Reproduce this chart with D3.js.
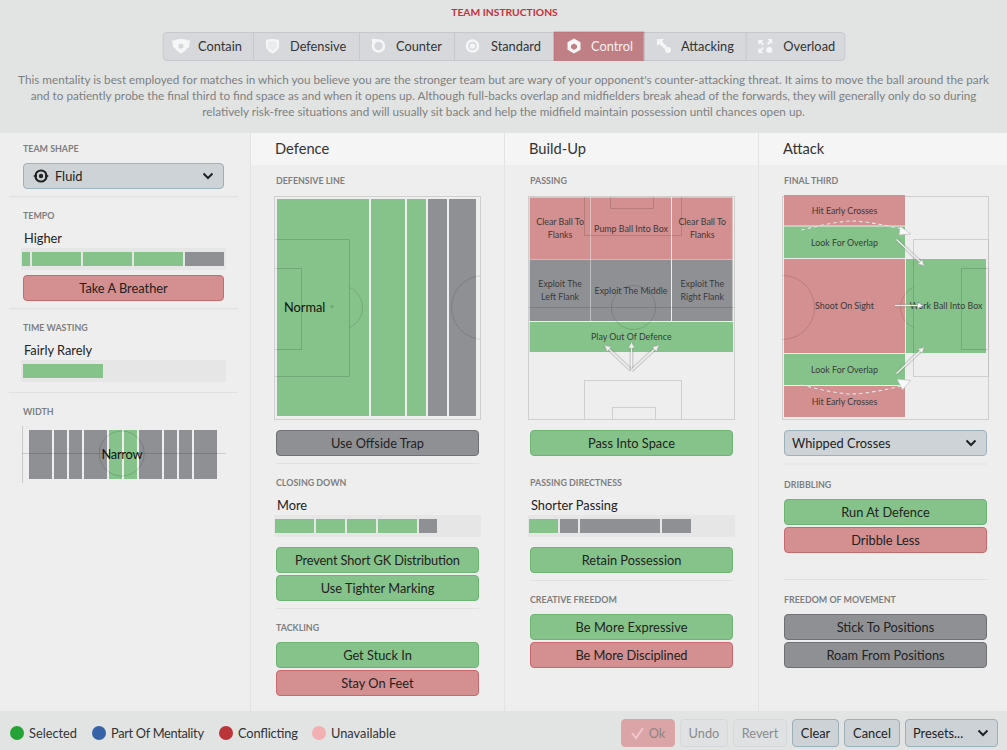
<!DOCTYPE html>
<html><head><meta charset="utf-8">
<script src="https://cdn.jsdelivr.net/npm/d3@7"></script>
<style>html,body{margin:0;padding:0;background:#eee;overflow:hidden}svg{display:block}text{font-family:Lato,"Open Sans",sans-serif}</style>
</head><body><svg id="c" width="1007" height="750"></svg>
<script>
// ---- data ----
const tabLabels = ["Contain","Defensive","Counter","Standard","Control","Attacking","Overload"];
const tabEdges = [163,253.5,359.5,454.5,554,644,746.3,845];
const activeTab = "Control";
const descLines = [
 "This mentality is best employed for matches in which you believe you are the stronger team but are wary of your opponent's counter-attacking threat. It aims to move the ball around the park",
 "and to patiently probe the final third to find space as and when it opens up. Although full-backs overlap and midfielders break ahead of the forwards, they will generally only do so during",
 "relatively risk-free situations and will usually sit back and help the midfield maintain possession until chances open up."];
const columnTitles = ["Defence","Build-Up","Attack"];
const tempoSegments = [[1,9,"on"],[11,60,"on"],[62,111,"on"],[113,162,"on"],[164,203,"off"]];
const timeWastingSegments = [[2,82,"on"]];
const closingSegments = [[1,40,"on"],[42,71,"on"],[73,102,"on"],[104,143,"on"],[145,163,"off"]];
const directnessSegments = [[1,30,"on"],[32,50,"off"],[52,132,"off"],[134,163,"off"]];
const widthBands = [[7,30,"off"],[32,45,"off"],[47,60,"off"],[62,85,"off"],[87,100,"on"],[102,115,"on"],[117,140,"off"],[142,155,"off"],[157,170,"off"],[172,195,"off"]];
const defenceBands = [[2.5,94.5,"on"],[96.5,130.5,"on"],[132.5,151.5,"on"],[153.5,172.5,"off"],[174.5,201.5,"off"]];
const passingZones = [
 [1.2,62,1,62.5,"bad",["Clear Ball To","Flanks"]],[62.5,142.5,1,62.5,"bad",["Pump Ball Into Box"]],[143.5,204,1,62.5,"bad",["Clear Ball To","Flanks"]],
 [1.2,62,63,124.5,"off",["Exploit The","Left Flank"]],[62.5,142.5,63,124.5,"off",["Exploit The Middle"]],[143.5,204,63,124.5,"off",["Exploit The","Right Flank"]],
 [1.2,204.5,125.5,155.5,"on",["Play Out Of Defence"]]];
const attackZones = [
 [1.5,122.5,-1.5,29,"bad",["Hit Early Crosses"]],[1.5,122.5,30,61.5,"on",["Look For Overlap"]],[1.5,122.5,62.5,156.5,"bad",["Shoot On Sight"]],
 [1.5,122.5,157.5,188.5,"on",["Look For Overlap"]],[1.5,122.5,189.5,220.5,"bad",["Hit Early Crosses"]],[123.5,203.5,62.5,156.5,"on",["Work Ball Into Box"]]];
const passArrows = [[103,174,76.5,149],[103,174,103,146],[103,174,130,149]];
const attackArrows = [[114,43,141.5,69],[112.5,109,140.5,109],[114,177,141.5,151]];
const crossCurves = [[[19,33.5],[69,24.5],[119,32.5]],[[19,188.5],[69,197.5],[119,189.5]]];
const crossHeads = [[[117.5,29.5],[128,37.5],[116.5,38.5]],[[114.5,182.5],[128,184],[120,193.5]]];
const pitchH = [[1,[[0,43,75,180],[0,72,27,153]]],[3,[[131,43,206,180],[179,72,206,153]]]];
const legendLabels = ["Selected","Part Of Mentality","Conflicting","Unavailable"];
const legendColors = ["#25a337","#3663a8","#bb3438","#f2b0b2"];
const footerButtons = [["Ok",621,675,"ok"],["Undo",680,728,"dis"],["Revert",733,787,"dis"],["Clear",792,839,"en"],["Cancel",844,900,"en"],["Presets...",905,998,"en"]];
const fittedLengths = {"Prevent Short GK Distribution":165,"Part Of Mentality":93,"Conflicting":60,"Be More Expressive":112,"Narrow":41,"Be More Disciplined":112};

// ---- palette ----
const fills={on:"#85c38a",off:"#8f9094",bad:"#d48f90"};
const strokes={on:"#6db473",off:"#6f7073",bad:"#c8696d",drop:"#9bb1bc"};
const svg=d3.select("#c");
const rect=(g,x,y,w,h,f,extra={})=>{const r=g.append("rect").attr("x",x).attr("y",y).attr("width",w).attr("height",h).attr("fill",f);for(const k in extra)r.attr(k,extra[k]);return r;};
const text=(g,t,x,y,size,fill,anchor="start",weight=400)=>{
  const n=g.append("text").text(t).attr("x",x).attr("y",y).attr("dy",".37em").attr("font-size",size).attr("fill",fill).attr("text-anchor",anchor).attr("font-weight",weight);
  if(fittedLengths[t]) n.attr("textLength",fittedLengths[t]);
  return n;
};
const hline=(x1,x2,y)=>svg.append("line").attr("x1",x1).attr("x2",x2).attr("y1",y).attr("y2",y).attr("stroke","#e0e0e0").attr("stroke-width",1.2);

// backgrounds
rect(svg,0,0,1007,750,"#eeeeee");
rect(svg,0,0,1007,133,"#e2e4e4");
rect(svg,250,133,757,32,"#f5f5f5");
rect(svg,0,711,1007,39,"#e2e4e3");
[250,504,758].forEach(x=>svg.append("line").attr("x1",x+.5).attr("x2",x+.5).attr("y1",133).attr("y2",711).attr("stroke","#e3e3e3"));

text(svg,"TEAM INSTRUCTIONS",504.5,12,10.3,"#c4313a","middle",700);

// tabs
const tabs=svg.append("g");
rect(tabs,163,32.5,682,28,"#d6d8dc",{rx:4,stroke:"#c6c8cc"});
const tabX=d3.scaleOrdinal(tabLabels,d3.pairs(tabEdges));
tabLabels.forEach((l,i)=>{
  const [a,b]=tabX(l), on=l===activeTab;
  if(on) rect(tabs,a,32,b-a,28.5,"#bf7f85",{stroke:"#b8656c","stroke-width":.6});
  else if(i) tabs.append("line").attr("x1",a).attr("x2",a).attr("y1",33).attr("y2",60).attr("stroke","#c6c8cc");
  const tw={Contain:35,Defensive:36.5,Counter:36.5,Standard:36.5,Control:37,Attacking:37,Overload:37}[l];
  text(tabs,l,a+tw,46,12.8,on?"#f7f0f0":"#333","start");
  const ic=tabs.append("g").attr("transform",`translate(${a+18+(i==0?0:i==1?1:i==2?1:i==3?0:i==4?2:i==5?2:1)},46)`).attr("fill","#f5f6f6");
  if(i<2) ic.append("path").attr("d","M-6.5,-6 Q0,-8 6.5,-6 V1 Q5,5 0,7.5 Q-5,5 -6.5,1Z");
  if(i==0){ic.append("path").attr("d","M-6,-5 L-9,-6 L-8,1 L-5,3Z M6,-5 L9,-6 L8,1 L5,3Z");ic.append("circle").attr("r",2.6).attr("fill","#d6d8dc");}
  if(i==1) ic.append("path").attr("fill","#d6d8dc").attr("d","M-4.5,-4 Q0,-5.5 4.5,-4 V1 Q3,3.5 0,5 Q-3,3.5 -4.5,1Z").attr("opacity",.35);
  if(i==2||i==3){ic.append("circle").attr("r",5.5).attr("fill","none").attr("stroke","#f5f6f6").attr("stroke-width",2.6);}
  if(i==2) ic.append("path").attr("d","M-7,-7 L-1,-7 L-6,-1Z");
  if(i==3) ic.append("circle").attr("r",2.6);
  if(i==4){ic.append("path").attr("d","M0,-7.5 L6.5,-3.7 V3.7 L0,7.5 L-6.5,3.7 V-3.7Z");ic.append("path").attr("fill",on?"#bf7f85":"#d6d8dc").attr("d","M0,-2.5 L3,-0.8 V2 L0,4 L-3,2 V-0.8Z");}
  if(i==5){ic.append("path").attr("d","M-7,-7 H0 L-2,-4.5 L3,0.5 L0.5,3 L-4.5,-2 L-7,0Z");ic.append("circle").attr("cx",4).attr("cy",4).attr("r",3);}
  if(i==6){ic.append("path").attr("d","M-7,-1 V-6 H-2 L-3.5,-4 L-1,-2 L-2.5,-.5 L-5,-3Z M2,-7 H7 V-2 L5,-3.5 L3,-1 L1.5,-2.5 L4,-5Z M-7,7 V2 L-5,3.5 L-3,1 L-1.5,2.5 L-4,5 L-2,7Z");ic.append("circle").attr("cx",4).attr("cy",4).attr("r",3);}
});

// description
descLines.forEach((l,i)=>text(svg,l,503.5,80+i*16,11.72,"#7d7f7f","middle"));

// column titles
columnTitles.forEach((t,i)=>text(svg,t,[275,529,783][i],149,14.7,"#333"));

const labels=[["TEAM SHAPE",23,149],["TEMPO",23,216],["TIME WASTING",23,328],["WIDTH",23,412],["DEFENSIVE LINE",276,181],["CLOSING DOWN",276,483],["TACKLING",276,628],["PASSING",530,181],["PASSING DIRECTNESS",530,483],["CREATIVE FREEDOM",530,600],["FINAL THIRD",784,181],["DRIBBLING",784,485],["FREEDOM OF MOVEMENT",784,600]];
labels.forEach(([t,x,y])=>text(svg,t,x,y,8.9,"#7e7e7e","start",700));
const values=[["Higher",24,238],["Fairly Rarely",24,350],["More",277,505],["Shorter Passing",531,505]];
values.forEach(([t,x,y])=>text(svg,t,x,y,12.8,"#222"));

[[9,238,196.7],[9,238,308.7],[9,238,392.5],[276,479,463.5],[276,479,608.5],[530,733,580.5],[784,987,464],[784,987,579.5]].forEach(d=>hline(...d));

// buttons
function button(label,x0,x1,y0,state){
  const g=svg.append("g");
  rect(g,x0+.5,y0+.5,x1-x0-1,25,fills[state],{rx:3.5,stroke:strokes[state]});
  text(g,label,(x0+x1)/2,y0+13,12.8,"#222","middle");
}
const buttonRows=[
 ["Take A Breather",23,224,275,"bad"],["Use Offside Trap",276,479,430,"off"],["Prevent Short GK Distribution",276,479,547,"on"],["Use Tighter Marking",276,479,575,"on"],
 ["Get Stuck In",276,479,642,"on"],["Stay On Feet",276,479,670,"bad"],["Pass Into Space",530,733,430,"on"],["Retain Possession",530,733,547,"on"],
 ["Be More Expressive",530,733,614,"on"],["Be More Disciplined",530,733,642,"bad"],["Run At Defence",784,987,499,"on"],["Dribble Less",784,987,527,"bad"],
 ["Stick To Positions",784,987,614,"off"],["Roam From Positions",784,987,642,"off"]];
buttonRows.forEach(b=>button(...b));

const chevron=(g,x,y)=>g.append("path").attr("d",`M${x-4.5},${y-2.5} L${x},${y+2} L${x+4.5},${y-2.5}`).attr("fill","none").attr("stroke","#222").attr("stroke-width",2);
function dropdown(label,x0,x1,y0,tx){
  const g=svg.append("g");
  rect(g,x0+.5,y0+.5,x1-x0-1,25,"#cdd3d7",{rx:3.5,stroke:strokes.drop});
  text(g,label,tx,y0+13,12.8,"#222");
  chevron(g,x1-16,y0+13);
}
dropdown("Fluid",23,224,163,55);
dropdown("Whipped Crosses",784,987,430,792);
const fl=svg.append("g").attr("transform","translate(41,176)");
fl.append("circle").attr("r",5.6).attr("fill","none").attr("stroke","#222").attr("stroke-width",2);
fl.append("circle").attr("r",2.2).attr("fill","#222");
fl.append("path").attr("d","M-8,0 L-4,-2 L-4,2Z M8,0 L4,-2 L4,2Z").attr("fill","#222");

// sliders
function slider(x0,y0,w,segs){
  const g=svg.append("g");
  rect(g,x0,y0,w,22,"#e6e6e6");
  const sx=d3.scaleLinear([0,w],[x0,x0+w]);
  g.selectAll("rect.s").data(segs).join("rect").attr("class","s")
   .attr("x",d=>sx(d[0])).attr("width",d=>sx(d[1])-sx(d[0])).attr("y",y0+4).attr("height",14).attr("fill",d=>fills[d[2]]);
}
slider(21,248,205,tempoSegments);
slider(21,360,205,timeWastingSegments);
slider(274,515,207,closingSegments);
slider(528,515,207,directnessSegments);

// width graphic
const wx=d3.scaleLinear([0,204],[22,226]);
svg.append("g").selectAll("rect").data(widthBands).join("rect").attr("x",d=>wx(d[0])).attr("width",d=>wx(d[1])-wx(d[0])).attr("y",430).attr("height",49).attr("fill",d=>fills[d[2]]);
svg.append("line").attr("x1",22.5).attr("x2",22.5).attr("y1",426).attr("y2",483).attr("stroke","#c9c9c9");
svg.append("line").attr("x1",22).attr("x2",226).attr("y1",453.5).attr("y2",453.5).attr("stroke","#000").attr("stroke-opacity",.14);
svg.append("circle").attr("cx",wx(99.7)).attr("cy",453.5).attr("r",22.5).attr("fill","none").attr("stroke","#000").attr("stroke-opacity",.14);
text(svg,"Narrow",122,454,12.8,"#111","middle");

// pitches
const pitchW=206,pitchHt=223;
function pitch(id,ox){
  const x=d3.scaleLinear([0,pitchW],[ox,ox+pitchW]),y=d3.scaleLinear([0,pitchHt],[196.5,196.5+pitchHt]);
  const g=svg.append("g");
  svg.append("clipPath").attr("id",id).append("rect").attr("x",ox).attr("y",196.5).attr("width",pitchW).attr("height",pitchHt);
  return {x,y,g,id};
}
function frame(p){rect(p.g,p.x(0),p.y(0),pitchW,pitchHt,"none",{stroke:"#cfcfcf"});}
function lines(p,boxes,circles){
  const l=p.g.append("g").attr("clip-path",`url(#${p.id})`).attr("fill","none").attr("stroke","#000").attr("stroke-opacity",.13);
  boxes.forEach(b=>l.append("rect").attr("x",p.x(b[0])).attr("y",p.y(b[1])).attr("width",p.x(b[2])-p.x(b[0])).attr("height",p.y(b[3])-p.y(b[1])));
  circles.forEach(c=>l.append("circle").attr("cx",p.x(c[0])).attr("cy",p.y(c[1])).attr("r",c[2]));
}
function zones(p,data){
  const g=p.g.append("g");
  g.selectAll("rect").data(data).join("rect").attr("x",d=>p.x(d[0])).attr("width",d=>p.x(d[1])-p.x(d[0])).attr("y",d=>p.y(d[2])).attr("height",d=>p.y(d[3])-p.y(d[2])).attr("fill",d=>fills[d[4]]);
}
function zoneLabels(p,data){
  data.forEach(d=>{
    const cx=p.x((d[0]+d[1])/2),cy=p.y((d[2]+d[3])/2);
    d[5].forEach((t,i)=>text(svg,t,cx,cy+(i-(d[5].length-1)/2)*13,8.85,"#3a3a3a","middle"));
  });
}
const arrow=(p,a)=>{
  const g=svg.append("g");
  const [x1,y1,x2,y2]=[p.x(a[0]),p.y(a[1]),p.x(a[2]),p.y(a[3])];
  g.append("line").attr("x1",x1).attr("y1",y1).attr("x2",x2).attr("y2",y2).attr("stroke","#8e8e8e").attr("stroke-opacity",.32).attr("stroke-width",4.2);
  g.append("line").attr("x1",x1).attr("y1",y1).attr("x2",x2).attr("y2",y2).attr("stroke","#f3f3f3").attr("stroke-width",1.1);
  const ang=Math.atan2(y2-y1,x2-x1)*180/Math.PI;
  g.append("path").attr("d","M0,0 L-5.5,-3 L-5.5,3Z").attr("transform",`translate(${x2},${y2}) rotate(${ang})`).attr("fill","#f3f3f3").attr("stroke","#999").attr("stroke-opacity",.6).attr("stroke-width",.6);
};

// defence
const pd=pitch("cd",274.5);
zones(pd,defenceBands.map(b=>[b[0],b[1],2.5,219.5,b[2]]));
lines(pd,pitchH[0][1],[]);
const arcD=pd.g.append("g").attr("fill","none").attr("stroke","#000").attr("stroke-opacity",.13);
svg.append("clipPath").attr("id","ad").append("rect").attr("x",pd.x(75)).attr("y",196).attr("width",40).attr("height",223);
arcD.append("circle").attr("cx",pd.x(66)).attr("cy",pd.y(111)).attr("r",22).attr("clip-path","url(#ad)");
lines(pd,[],[[209,111,32]]);
pd.g.append("circle").attr("cx",pd.x(57.5)).attr("cy",pd.y(110)).attr("r",1.8).attr("fill","#000").attr("opacity",.13);
frame(pd);
text(svg,"Normal",284,307,12.8,"#111");

// build-up
const pb=pitch("cb",528.5);
zones(pb,passingZones);
lines(pb,[[56,0,153,39],[82,0,125,12],[56,184,153,223],[84,211,127,223]],[[105,111,22]]);
pb.g.append("line").attr("x1",pb.x(0)).attr("x2",pb.x(206)).attr("y1",pb.y(111)).attr("y2",pb.y(111)).attr("stroke","#000").attr("stroke-opacity",.13);
frame(pb);
zoneLabels(pb,passingZones);
passArrows.forEach(a=>arrow(pb,a));

// attack
const pa=pitch("ca",782.5);
frame(pa);
zones(pa,attackZones);
lines(pa,pitchH[1][1],[[0,111,32]]);
const arcA=pa.g.append("g").attr("fill","none").attr("stroke","#000").attr("stroke-opacity",.13);
svg.append("clipPath").attr("id","aa").append("rect").attr("x",pa.x(100)).attr("y",196).attr("width",31).attr("height",223);
arcA.append("circle").attr("cx",pa.x(140)).attr("cy",pa.y(111)).attr("r",22).attr("clip-path","url(#aa)");
zoneLabels(pa,attackZones);
attackArrows.forEach(a=>arrow(pa,a));
const cl=d3.line().x(d=>pa.x(d[0])).y(d=>pa.y(d[1])).curve(d3.curveCardinal.tension(0));
crossCurves.forEach(c=>{
  svg.append("path").attr("d",cl(c)).attr("fill","none").attr("stroke","#999").attr("stroke-opacity",.3).attr("stroke-width",2.2).attr("stroke-dasharray","3.5 3");
  svg.append("path").attr("d",cl(c)).attr("fill","none").attr("stroke","#ececec").attr("stroke-width",1.1).attr("stroke-dasharray","3.5 3");
});
crossHeads.forEach(h=>svg.append("path").attr("d","M"+h.map(p=>[pa.x(p[0]),pa.y(p[1])].join(",")).join("L")+"Z").attr("fill","#f8f8f8").attr("stroke","#b5b5b5").attr("stroke-width",.6));

// legend
const lx=[17,99,226,319];
legendLabels.forEach((l,i)=>{
  svg.append("circle").attr("cx",lx[i]).attr("cy",733).attr("r",7).attr("fill",legendColors[i]);
  text(svg,l,lx[i]+12,733,12.8,"#333");
});

// footer buttons
footerButtons.forEach(([t,a,b,k])=>{
  const g=svg.append("g");
  const f={ok:"#dba5a7",dis:"#dfe1e3",en:"#ccd2d6"}[k], s={ok:"#dba5a7",dis:"#d5d8da",en:"#9db0ba"}[k], c={ok:"#8f8383",dis:"#8a8c8d",en:"#222"}[k];
  rect(g,a+.5,719.5,b-a-1,27,f,{rx:3.5,stroke:s});
  if(k==="ok"){text(g,t,657,733,12.8,c,"middle");g.append("path").attr("d","M632,733 L636,738 L643,728").attr("fill","none").attr("stroke","#eec9ca").attr("stroke-width",2);}
  else if(t==="Presets..."){text(g,t,913,733,12.8,c);chevron(g,983,733);}
  else text(g,t,(a+b)/2,733,12.8,c,"middle");
});
</script></body></html>
